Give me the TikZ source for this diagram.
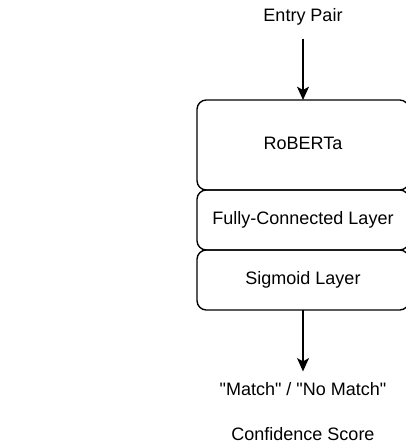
\documentclass[tikz,border=0pt]{standalone}
\usepackage{fontspec}
\setmainfont{Liberation Sans}[Ligatures=TeXOff]
\usepackage{tikz}
\usetikzlibrary{arrows.meta, positioning}

\begin{document}
\begin{tikzpicture}[x=0.75pt, y=0.75pt,
		every node/.style={font=\fontsize{13.5}{16}\selectfont, text height=0.716em, text depth=0pt},
		layer/.style={draw, line width=1pt, rounded corners=7pt, minimum width=159pt, outer sep=0pt, inner sep=0pt},
		flow/.style={line width=1pt, -{Stealth[length=10pt, width=9pt, inset=2.5pt]}}]
	
	\useasboundingbox (0,0) rectangle (405,446);
	
	% Input
	\node (entry) at (303,429.3) {Entry Pair};
	
	% Model stack
	\node[layer, minimum height=67.5pt] (roberta) at (303,301) {RoBERTa};
	\node[layer, minimum height=45pt, below=0pt of roberta] (fc) {Fully-Connected Layer};
	\node[layer, minimum height=45pt, below=0pt of fc] (sigmoid) {Sigmoid Layer};
	
	% Outputs
	\node (match) at (303,55) {"Match" / "No Match"};
	\node (conf) at (303,10) {Confidence Score};
	
	% Arrows
	\draw[flow, shorten <=9.3pt] (entry) -- (roberta);
	\draw[flow, shorten >=7.6pt] (sigmoid) -- (match);
	
\end{tikzpicture}
\end{document}
